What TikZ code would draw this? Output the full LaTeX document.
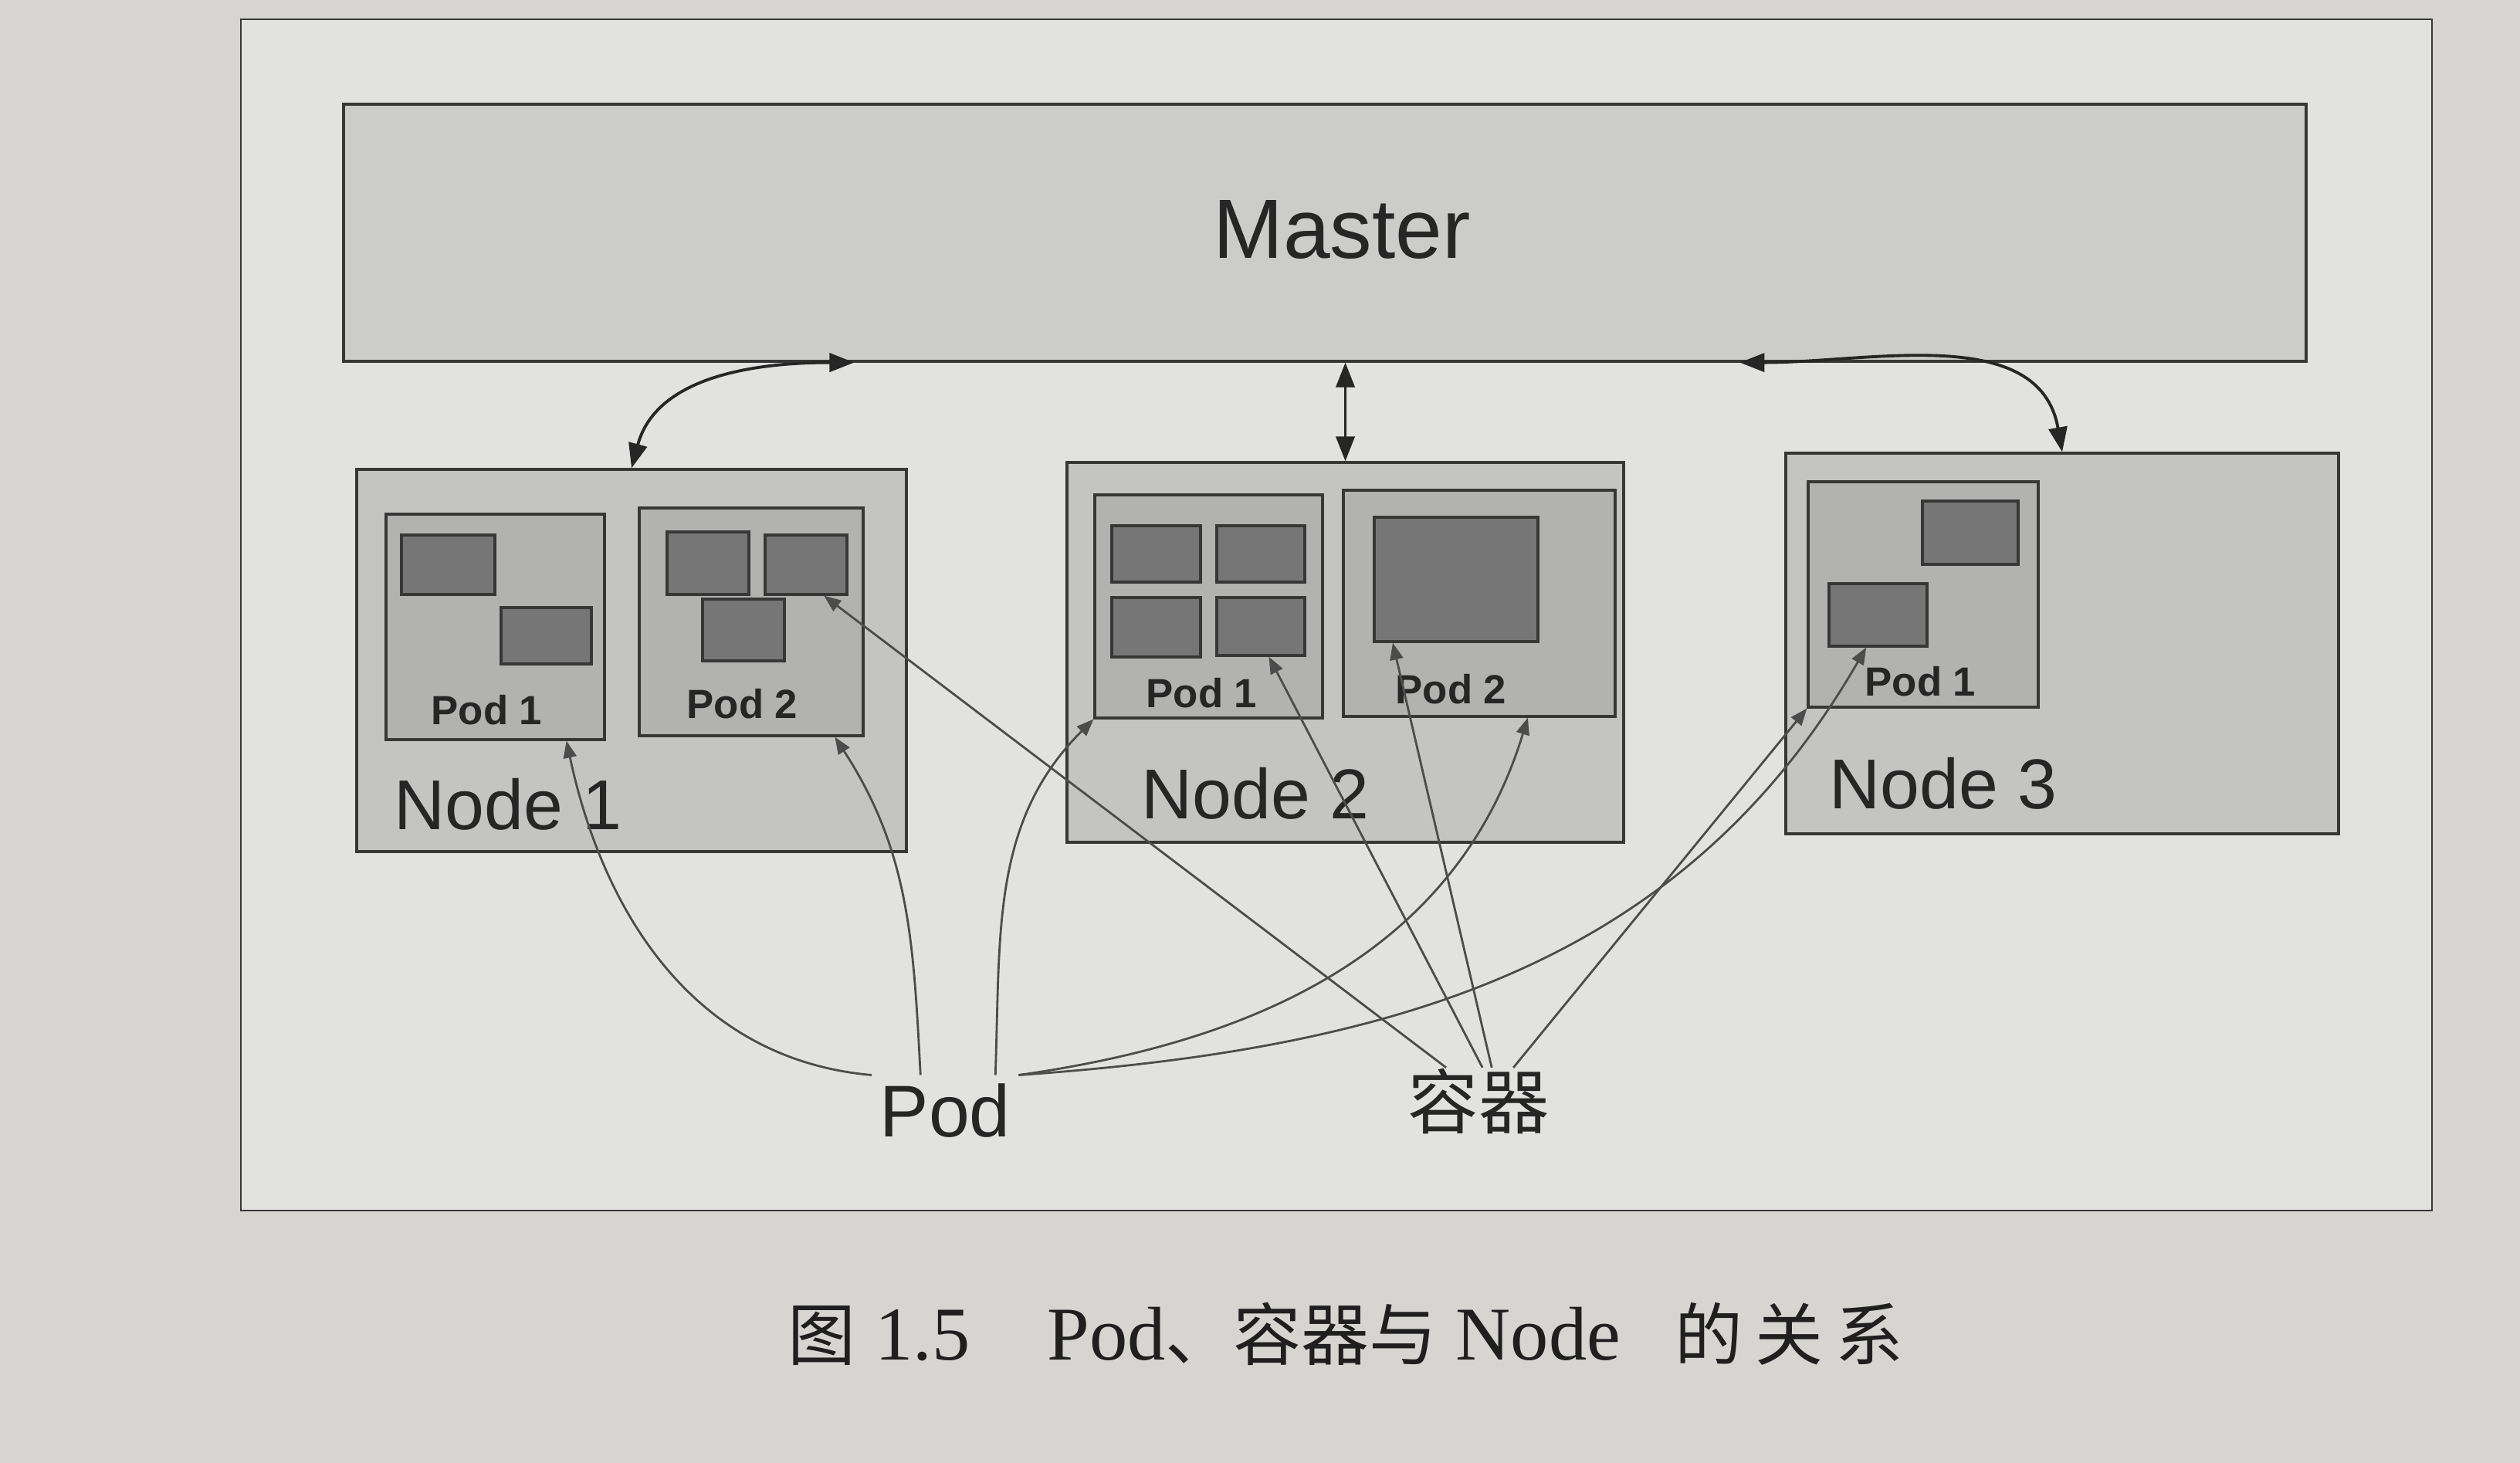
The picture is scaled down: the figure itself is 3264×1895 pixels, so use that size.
\documentclass[tikz,border=0pt]{standalone}
\usepackage{fontspec}
\setmainfont{Liberation Sans}
\newfontfamily\cjkfont{Noto Sans CJK SC}
\newfontfamily\capfont{Liberation Serif}
\newcommand\cjkcap{\cjkfont\fontsize{25}{30}\selectfont}
\usetikzlibrary{arrows.meta,calc,fit}
\definecolor{paper}{RGB}{214,213,210}
\definecolor{sheet}{RGB}{226,226,224}
\definecolor{mstgray}{RGB}{204,204,202}
\definecolor{nodegray}{RGB}{196,196,195}
\definecolor{podgray}{RGB}{178,178,177}
\definecolor{ctrgray}{RGB}{118,118,118}
\definecolor{inkgray}{RGB}{55,55,55}

\tikzset{
  box/.style={draw=inkgray, line width=0.9pt, inner sep=0pt},
  mstbox/.style={box, fill=mstgray},
  nodebox/.style={box, fill=nodegray},
  podbox/.style={box, fill=podgray},
  ctrbox/.style={box, fill=ctrgray},
  nodetxt/.style={anchor=base west, inner sep=0pt, text=black!85, font=\fontsize{26}{30}\selectfont},
  podtxt/.style={anchor=base west, inner sep=0pt, text=black!85, font=\fontsize{15}{18}\selectfont\bfseries},
  mlink/.style={{Triangle[length=0.32cm,width=0.24cm]}-{Triangle[length=0.32cm,width=0.24cm]}, line width=1.1pt, black!85},
  plink/.style={-{Triangle[length=0.22cm,width=0.17cm]}, line width=0.8pt, black!70},
}

\begin{document}
\begin{tikzpicture}[x=0.01cm, y=-0.01cm]
  \path[use as bounding box, fill=paper] (0,0) rectangle (3264,1895);
  \draw[inkgray, line width=0.8pt, fill=sheet] (312,25) rectangle (3150,1568);

  \node[mstbox, fit={(445,135) (2987,468)}] (mst) {};
  \node[text=black!85, font=\fontsize{31}{36}\selectfont] (msttxt) at (1738,298) {Master};

  \node[nodebox, fit={(462,608) (1174,1103)}] (n1) {};
  \node[nodebox, fit={(1382,599) (2103,1091)}] (n2) {};
  \node[nodebox, fit={(2313,587) (3029,1080)}] (n3) {};

  \node[podbox, fit={(500,666) (783,958)}] (n1p1) {};
  \node[podbox, fit={(828,658) (1118,953)}] (n1p2) {};
  \node[podbox, fit={(1418,641) (1713,930)}] (n2p1) {};
  \node[podbox, fit={(1740,635) (2092,928)}] (n2p2) {};
  \node[podbox, fit={(2342,624) (2640,916)}] (n3p1) {};

  \node[ctrbox, fit={(520,693) (641,770)}] (n1p1a) {};
  \node[ctrbox, fit={(649,787) (766,860)}] (n1p1b) {};
  \node[ctrbox, fit={(864,689) (970,770)}] (n1p2a) {};
  \node[ctrbox, fit={(991,693) (1097,770)}] (n1p2b) {};
  \node[ctrbox, fit={(910,776) (1016,856)}] (n1p2c) {};
  \node[ctrbox, fit={(1440,681) (1555,754)}] (n2p1a) {};
  \node[ctrbox, fit={(1576,681) (1690,754)}] (n2p1b) {};
  \node[ctrbox, fit={(1440,774) (1555,851)}] (n2p1c) {};
  \node[ctrbox, fit={(1576,774) (1690,849)}] (n2p1d) {};
  \node[ctrbox, fit={(1780,670) (1992,831)}] (n2p2a) {};
  \node[ctrbox, fit={(2490,649) (2614,731)}] (n3p1a) {};
  \node[ctrbox, fit={(2369,756) (2496,837)}] (n3p1b) {};

  \node[nodetxt] (n1txt) at (510,1074) {Node 1};
  \node[nodetxt] (n2txt) at (1478,1060) {Node 2};
  \node[nodetxt] (n3txt) at (2369,1047) {Node 3};
  \node[podtxt] (n1p1txt) at (558,939) {Pod 1};
  \node[podtxt] (n1p2txt) at (889,930) {Pod 2};
  \node[podtxt] (n2p1txt) at (1484,916) {Pod 1};
  \node[podtxt] (n2p2txt) at (1807,912) {Pod 2};
  \node[podtxt] (n3p1txt) at (2415,901) {Pod 1};

  \node[anchor=base west, inner sep=1mm, text=black!85, font=\fontsize{27}{32}\selectfont] (podlbl) at (1129,1472) {Pod};
  \node[anchor=base west, inner sep=0pt, text=black!85, font=\cjkfont\fontsize{26}{30}\selectfont] (ctrlbl) at (1823,1461) {容器};

  \node[anchor=base west, inner sep=0pt, text=black!88, font=\capfont\fontsize{28}{32}\selectfont] (cap) at (1020,1761)
    {{\cjkcap 图} 1.5\hspace{1cm}Pod{\cjkcap 、容器与} Node\hspace{0.7cm}{\cjkcap 的\hspace{1.6mm}关\hspace{1.6mm}系}};

  \coordinate (m1) at ($(mst.south west)+(663,0)$);
  \coordinate (m3) at ($(mst.south west)+(1810,0)$);
  \draw[mlink] (n1.north) to[out=75,in=180] (m1);
  \draw[mlink] (n2.north |- mst.south) -- (n2.north);
  \draw[mlink] (m3) to[out=0,in=100] (n3.north);

  \draw[plink] (podlbl.north west) to[out=175,in=-78] (n1p1.-58);
  \draw[plink] (podlbl.125) to[out=93,in=-57] (n1p2.-54);
  \draw[plink] (podlbl.35) to[out=88,in=225] (n2p1.south west);
  \draw[plink] (podlbl.north east) to[out=8,in=-107] (n2p2.-67);
  \draw[plink] (podlbl.north east) to[out=4,in=240] (n3p1b.-110);

  \draw[plink] ([xshift=-4.2mm]ctrlbl.north) -- (n1p2b.-60);
  \draw[plink] ([xshift=0.5mm]ctrlbl.north) -- (n2p1d.-75);
  \draw[plink] ([xshift=1.7mm]ctrlbl.north) -- (n2p2a.-135);
  \draw[plink] ([xshift=4.5mm]ctrlbl.north) -- (n3p1.south west);
\end{tikzpicture}
\end{document}
